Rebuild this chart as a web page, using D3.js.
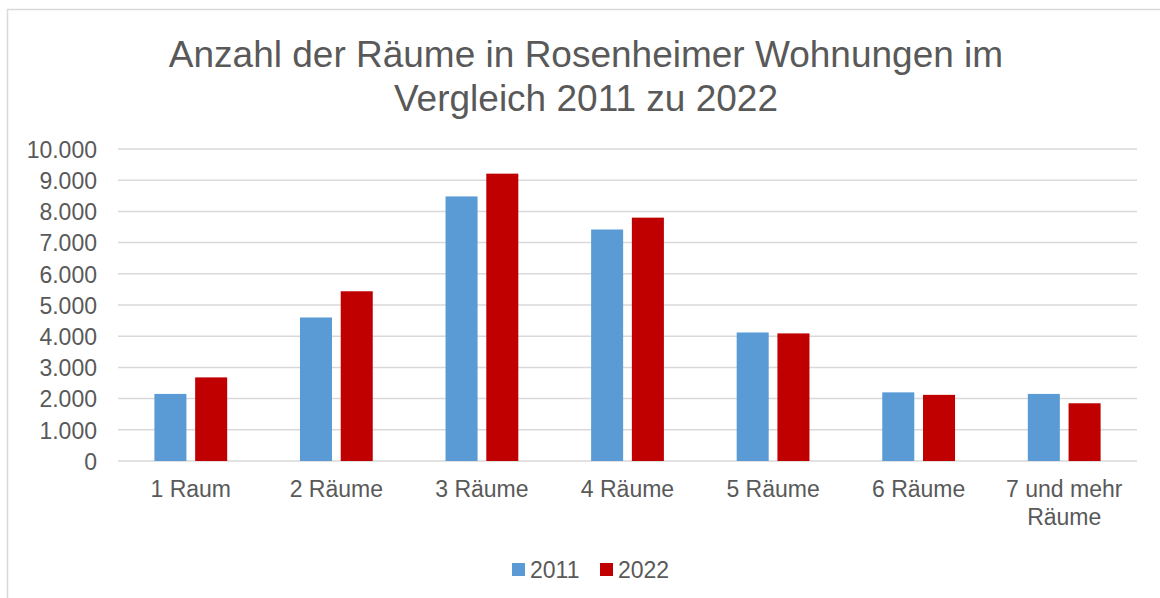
<!DOCTYPE html>
<html>
<head>
<meta charset="utf-8">
<script src="https://cdn.jsdelivr.net/npm/d3@7"></script>
<style>
  html, body { margin: 0; padding: 0; background: #fff; }
  svg { display: block; font-family: "Liberation Sans", Arial, sans-serif; }
</style>
</head>
<body>
<div id="chart"></div>
<script>
// chart data
const categories = ["1 Raum", "2 Räume", "3 Räume", "4 Räume", "5 Räume", "6 Räume", "7 und mehr Räume"];
const seriesNames = ["2011", "2022"];
const values2011 = [2150, 4600, 8480, 7420, 4120, 2200, 2150];
const values2022 = [2680, 5440, 9210, 7800, 4090, 2120, 1850];
const yTicks = [0, 1000, 2000, 3000, 4000, 5000, 6000, 7000, 8000, 9000, 10000];
const colors = ["#5b9bd5", "#c00000"];

const width = 1160, height = 598;
const margin = { top: 149, right: 23, bottom: 137, left: 118 };
const innerW = width - margin.left - margin.right;
const innerH = height - margin.top - margin.bottom;

const svg = d3.select("#chart").append("svg")
  .attr("width", width)
  .attr("height", height);

// outer chart frame (partly cropped)
svg.append("rect")
  .attr("x", 7.5).attr("y", 9.5)
  .attr("width", 1200).attr("height", 700)
  .attr("fill", "none")
  .attr("stroke", "#d9d9d9")
  .attr("stroke-width", 1.5);

// title
svg.append("text")
  .attr("text-anchor", "middle")
  .attr("fill", "#595959")
  .style("font-size", "37px")
  .selectAll("tspan")
  .data(["Anzahl der Räume in Rosenheimer Wohnungen im", "Vergleich 2011 zu 2022"])
  .enter().append("tspan")
  .attr("x", 586)
  .attr("y", (d, i) => 67 + i * 44)
  .text(d => d);

const g = svg.append("g")
  .attr("transform", "translate(" + margin.left + "," + margin.top + ")");

const x = d3.scaleBand()
  .domain(categories)
  .range([0, innerW]);

const y = d3.scaleLinear()
  .domain([0, 10000])
  .range([innerH, 0]);

const fmt = d3.formatLocale({ decimal: ",", thousands: ".", grouping: [3], currency: ["", "€"] }).format(",.0f");

// gridlines
g.append("g")
  .selectAll("line")
  .data(yTicks)
  .enter().append("line")
  .attr("x1", 0).attr("x2", innerW)
  .attr("y1", d => y(d)).attr("y2", d => y(d))
  .attr("stroke", "#d9d9d9")
  .attr("stroke-width", 1.5);

// y axis labels
const yAxis = g.append("g")
  .call(d3.axisLeft(y).tickValues(yTicks).tickFormat(fmt).tickSize(0).tickPadding(21));
yAxis.select(".domain").remove();
yAxis.selectAll("text")
  .attr("fill", "#595959")
  .attr("dy", "0.36em")
  .style("font-size", "23px")
  .style("font-family", "'Liberation Sans', Arial, sans-serif");

// bars
const barW = x.bandwidth() * 0.22;
const gap = x.bandwidth() * 0.06;
const data = categories.map((c, i) => ({ cat: c, vals: [values2011[i], values2022[i]] }));

const groups = g.selectAll(".grp")
  .data(data)
  .enter().append("g")
  .attr("class", "grp")
  .attr("transform", d => "translate(" + (x(d.cat) + x.bandwidth() / 2) + ",0)");

groups.selectAll("rect")
  .data(d => d.vals)
  .enter().append("rect")
  .attr("x", (d, i) => i === 0 ? -gap / 2 - barW : gap / 2)
  .attr("width", barW)
  .attr("y", d => y(d))
  .attr("height", d => innerH - y(d))
  .attr("fill", (d, i) => colors[i]);

// category labels
const xLabels = g.append("g")
  .attr("transform", "translate(0," + innerH + ")");
xLabels.selectAll("text")
  .data(categories)
  .enter().append("text")
  .attr("text-anchor", "middle")
  .attr("fill", "#595959")
  .style("font-size", "23px")
  .each(function(d) {
    const lines = d === "7 und mehr Räume" ? ["7 und mehr", "Räume"] : [d];
    const cx = x(d) + x.bandwidth() / 2;
    d3.select(this).selectAll("tspan")
      .data(lines)
      .enter().append("tspan")
      .attr("x", cx)
      .attr("y", (l, i) => 36 + i * 28)
      .text(l => l);
  });

// legend
const legend = svg.append("g")
  .attr("transform", "translate(512,0)");
const items = legend.selectAll("g")
  .data(seriesNames)
  .enter().append("g")
  .attr("transform", (d, i) => "translate(" + (i * 88) + ",0)");
items.append("rect")
  .attr("x", 0).attr("y", 563)
  .attr("width", 13).attr("height", 13)
  .attr("fill", (d, i) => colors[i]);
items.append("text")
  .attr("x", 18).attr("y", 578)
  .attr("fill", "#595959")
  .style("font-size", "23px")
  .text(d => d);
</script>
</body>
</html>
